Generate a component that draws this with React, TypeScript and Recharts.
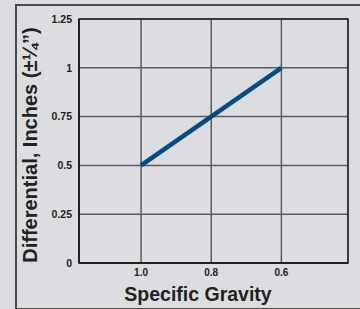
import React from "react";
import {
  LineChart,
  Line,
  XAxis,
  YAxis,
  CartesianGrid,
  ReferenceArea,
} from "recharts";

const specificGravity = [1.0, 0.6];
const differential = [0.5, 1];
const xTicks = [1.0, 0.8, 0.6];
const yTicks = [0, 0.25, 0.5, 0.75, 1, 1.25];
const xTitle = "Specific Gravity";
const yTitle = "Differential, Inches (±¼”)";

const data = specificGravity.map((sg, i) => ({ sg, diff: differential[i] }));

const FONT = "'Liberation Sans', Arial, Helvetica, sans-serif";
const X_DOMAIN: [number, number] = [0.41, 1.177];

export default function App() {
  return (
    <div
      style={{
        position: "absolute",
        left: 0,
        top: 0,
        width: 360,
        height: 309,
        background: "#dcdde0",
        overflow: "hidden",
        fontFamily: FONT,
      }}
    >
      <div
        style={{
          position: "absolute",
          left: 15,
          top: 4,
          width: 400,
          height: 302,
          border: "2px solid #4a4a4a",
        }}
      />
      <div style={{ position: "absolute", left: 0, top: 0 }}>
        <LineChart
          width={360}
          height={309}
          data={data}
          margin={{ top: 19, right: 12, left: 0, bottom: 0 }}
        >
          <CartesianGrid stroke="#5c5c5c" strokeWidth={1.5} fill="none" />
          <ReferenceArea
            x1={X_DOMAIN[0]}
            x2={X_DOMAIN[1]}
            y1={0}
            y2={1.25}
            stroke="#222"
            strokeWidth={1.5}
            fill="none"
            fillOpacity={0}
            ifOverflow="extendDomain"
          />
          <XAxis
            dataKey="sg"
            type="number"
            domain={X_DOMAIN}
            reversed
            ticks={xTicks}
            allowDataOverflow
            tickFormatter={(v: number) => v.toFixed(1)}
            height={46}
            tickSize={0}
            tickMargin={6}
            tickLine={false}
            axisLine={{ stroke: "#222", strokeWidth: 2 }}
            tick={{ fontSize: 10, fontWeight: "bold", fill: "#222", fontFamily: FONT }}
            label={{
              content: () => (
                <text
                  x={198}
                  y={301}
                  textAnchor="middle"
                  fontSize={19.5}
                  fontWeight="bold"
                  fill="#222"
                  fontFamily={FONT}
                >
                  {xTitle}
                </text>
              ),
            }}
          />
          <YAxis
            type="number"
            domain={[0, 1.25]}
            ticks={yTicks}
            width={79}
            tickSize={0}
            tickMargin={7}
            tickLine={false}
            axisLine={{ stroke: "#222", strokeWidth: 2 }}
            tickFormatter={(v: number) => String(v)}
            tick={{ fontSize: 10.5, fontWeight: "bold", fill: "#222", fontFamily: FONT }}
            label={{
              content: () => (
                <text
                  x={37}
                  y={145}
                  textAnchor="middle"
                  transform="rotate(-90, 37, 145)"
                  fontSize={20}
                  fontWeight="bold"
                  fill="#222"
                  fontFamily={FONT}
                >
                  {yTitle}
                </text>
              ),
            }}
          />
          <Line
            type="linear"
            dataKey="diff"
            stroke="#074b86"
            strokeWidth={4.5}
            dot={false}
            isAnimationActive={false}
          />
        </LineChart>
      </div>
    </div>
  );
}
